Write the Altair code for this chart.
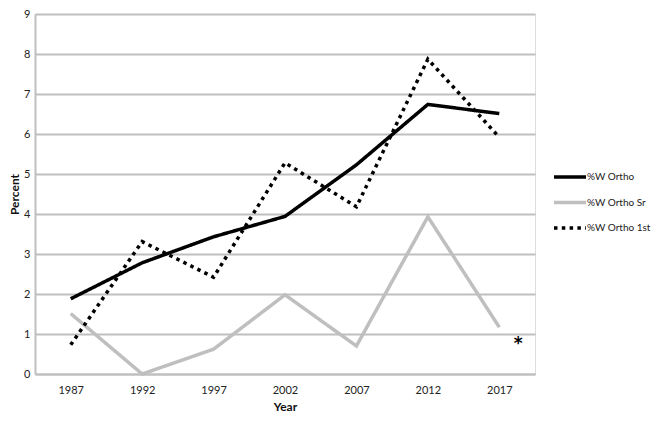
import altair as alt
import pandas as pd

years = ["1987", "1992", "1997", "2002", "2007", "2012", "2017"]
ortho = [1.88, 2.78, 3.43, 3.94, 5.23, 6.74, 6.51]
ortho_sr = [1.51, 0.0, 0.62, 1.98, 0.70, 3.93, 1.17]
ortho_1st = [0.73, 3.31, 2.42, 5.28, 4.18, 7.87, 5.92]
series_names = ["%W Ortho", "%W Ortho Sr", "%W Ortho 1st"]
series_colors = ["#000000", "#bfbfbf", "#000000"]
series_dashes = [[1, 0], [1, 0], [3.5, 4.3]]
y_ticks = [0, 1, 2, 3, 4, 5, 6, 7, 8, 9]
note_year = ["2017"]
note_value = [0.75]
note_text = ["*"]

rows = []
for name, vals in zip(series_names, [ortho, ortho_sr, ortho_1st]):
    for yr, v in zip(years, vals):
        rows.append({"Year": yr, "value": v, "series": name})
df = pd.DataFrame(rows)
notes = pd.DataFrame({"Year": note_year, "value": note_value, "txt": note_text})

FONT = "Lato"

legend = alt.Legend(
    orient="none", legendX=525, legendY=153, title=None,
    symbolType="M-2,0H2", symbolSize=256, symbolStrokeWidth=3.5,
    labelOffset=7, rowPadding=8.5, labelFontSize=10, labelFont=FONT,
    labelColor="#222222", labelLimit=200,
)

x_enc = alt.X(
    "Year:O", sort=years,
    scale=alt.Scale(type="point", padding=0.5, domain=years),
    axis=alt.Axis(
        labelAngle=0, ticks=False, grid=False, domainColor="#bfbfbf",
        domainWidth=2, labelPadding=10, labelFontSize=11, labelFont=FONT,
        labelColor="#222222", title="Year", titleFont=FONT, titleFontSize=12,
        titleFontWeight="bold", titleColor="#111111", titlePadding=6,
    ),
)
y_enc = alt.Y(
    "value:Q",
    scale=alt.Scale(domain=[0, 9], nice=False, zero=True),
    axis=alt.Axis(
        values=y_ticks, tickCount=20, format="d", labelOverlap=False,
        ticks=False, grid=True, gridColor="#bfbfbf",
        gridWidth=2, domainColor="#bfbfbf", domainWidth=2, labelPadding=5,
        labelFontSize=11, labelFont=FONT, labelColor="#222222",
        title="Percent", titleFont=FONT, titleFontSize=12,
        titleFontWeight="bold", titleColor="#111111", titlePadding=2,
    ),
)

lines = alt.Chart(df).mark_line(strokeWidth=3.5, clip=False).encode(
    x=x_enc,
    y=y_enc,
    color=alt.Color("series:N", sort=series_names,
                    scale=alt.Scale(domain=series_names, range=series_colors),
                    legend=legend),
    strokeDash=alt.StrokeDash("series:N", sort=series_names,
                              scale=alt.Scale(domain=series_names, range=series_dashes),
                              legend=legend),
    detail="series:N",
)

note = alt.Chart(notes).mark_text(
    dx=19, fontSize=17, fontWeight="bold", color="#000000", font="DejaVu Sans"
).encode(x=x_enc, y=y_enc, text="txt:N")

chart = alt.layer(lines, note).properties(
    width=500, height=360,
    autosize=alt.AutoSizeParams(type="none"),
    padding={"left": 27, "top": 6, "right": 119, "bottom": 42},
).configure_view(stroke=None).configure(background="white")

chart.save("out.html", embed_options={"renderer": "svg", "actions": False})
